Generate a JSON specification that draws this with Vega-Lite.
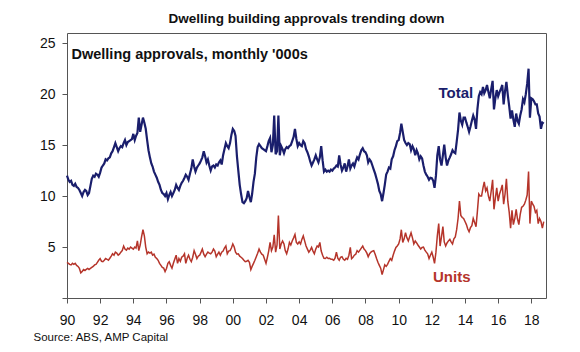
{
"$schema": "https://vega.github.io/schema/vega-lite/v6.json",
"width": 479, "height": 265,
"autosize": {"type": "none"},
"padding": {"left": 67, "top": 33, "right": 34, "bottom": 54},
"background": "white",
"config": {"font": "Liberation Sans", "view": {"stroke": "#555", "strokeWidth": 1}},
"title": {"text": "Dwelling building approvals trending down", "fontSize": 13.5, "fontWeight": "bold", "color": "#111", "anchor": "middle", "frame": "group", "offset": 11, "baseline": "alphabetic", "dx": 0, "dy": 14},
"datasets": {
"approvals": [
{"d":"1990-01","t":12.0,"u":3.5},{"d":"1990-02","t":11.6,"u":3.4},{"d":"1990-03","t":11.4,"u":3.3},{"d":"1990-04","t":11.5,"u":3.25},{"d":"1990-05","t":11.1,"u":3.4},{"d":"1990-06","t":11.0,"u":3.3},{"d":"1990-07","t":11.2,"u":3.4},{"d":"1990-08","t":10.9,"u":3.2},{"d":"1990-09","t":10.8,"u":3.1},{"d":"1990-10","t":10.6,"u":2.9},{"d":"1990-11","t":10.3,"u":2.46},{"d":"1990-12","t":10.0,"u":2.6},
{"d":"1991-01","t":10.4,"u":2.8},{"d":"1991-02","t":10.6,"u":2.7},{"d":"1991-03","t":10.5,"u":2.8},{"d":"1991-04","t":10.1,"u":2.9},{"d":"1991-05","t":10.3,"u":2.8},{"d":"1991-06","t":11.0,"u":2.9},{"d":"1991-07","t":11.7,"u":3.0},{"d":"1991-08","t":12.0,"u":3.1},{"d":"1991-09","t":11.9,"u":3.25},{"d":"1991-10","t":12.2,"u":3.3},{"d":"1991-11","t":12.1,"u":3.5},{"d":"1991-12","t":11.9,"u":3.7},
{"d":"1992-01","t":12.3,"u":3.87},{"d":"1992-02","t":12.8,"u":3.6},{"d":"1992-03","t":13.0,"u":3.56},{"d":"1992-04","t":13.2,"u":3.7},{"d":"1992-05","t":13.6,"u":3.87},{"d":"1992-06","t":13.5,"u":3.8},{"d":"1992-07","t":13.7,"u":3.7},{"d":"1992-08","t":13.8,"u":3.9},{"d":"1992-09","t":14.2,"u":4.1},{"d":"1992-10","t":14.4,"u":4.34},{"d":"1992-11","t":14.8,"u":4.2},{"d":"1992-12","t":15.2,"u":4.5},
{"d":"1993-01","t":14.8,"u":4.4},{"d":"1993-02","t":14.4,"u":4.2},{"d":"1993-03","t":14.7,"u":4.3},{"d":"1993-04","t":14.9,"u":4.5},{"d":"1993-05","t":14.8,"u":4.65},{"d":"1993-06","t":15.2,"u":5.1},{"d":"1993-07","t":15.5,"u":4.8},{"d":"1993-08","t":15.0,"u":4.7},{"d":"1993-09","t":15.3,"u":4.9},{"d":"1993-10","t":15.4,"u":4.8},{"d":"1993-11","t":15.5,"u":5.0},{"d":"1993-12","t":15.6,"u":4.9},
{"d":"1994-01","t":16.1,"u":4.8},{"d":"1994-02","t":15.5,"u":5.0},{"d":"1994-03","t":15.9,"u":4.9},{"d":"1994-04","t":16.2,"u":5.6},{"d":"1994-05","t":17.7,"u":4.65},{"d":"1994-06","t":16.3,"u":5.2},{"d":"1994-07","t":17.0,"u":6.0},{"d":"1994-08","t":17.7,"u":6.7},{"d":"1994-09","t":17.2,"u":6.1},{"d":"1994-10","t":16.6,"u":5.0},{"d":"1994-11","t":15.5,"u":4.34},{"d":"1994-12","t":14.5,"u":4.5},
{"d":"1995-01","t":13.8,"u":4.4},{"d":"1995-02","t":13.2,"u":4.5},{"d":"1995-03","t":12.9,"u":4.2},{"d":"1995-04","t":12.4,"u":4.3},{"d":"1995-05","t":12.1,"u":4.0},{"d":"1995-06","t":11.8,"u":3.87},{"d":"1995-07","t":11.4,"u":3.7},{"d":"1995-08","t":11.1,"u":3.4},{"d":"1995-09","t":10.6,"u":3.2},{"d":"1995-10","t":10.3,"u":3.0},{"d":"1995-11","t":10.2,"u":2.93},{"d":"1995-12","t":10.0,"u":2.6},
{"d":"1996-01","t":10.3,"u":2.9},{"d":"1996-02","t":9.7,"u":3.4},{"d":"1996-03","t":10.1,"u":3.56},{"d":"1996-04","t":10.4,"u":3.2},{"d":"1996-05","t":10.0,"u":2.93},{"d":"1996-06","t":10.3,"u":3.4},{"d":"1996-07","t":10.6,"u":3.8},{"d":"1996-08","t":11.1,"u":4.2},{"d":"1996-09","t":10.8,"u":3.4},{"d":"1996-10","t":10.6,"u":3.87},{"d":"1996-11","t":11.0,"u":3.6},{"d":"1996-12","t":11.3,"u":4.0},
{"d":"1997-01","t":11.5,"u":4.1},{"d":"1997-02","t":11.8,"u":4.34},{"d":"1997-03","t":12.1,"u":3.4},{"d":"1997-04","t":11.9,"u":3.9},{"d":"1997-05","t":11.6,"u":4.2},{"d":"1997-06","t":12.2,"u":3.8},{"d":"1997-07","t":12.7,"u":3.56},{"d":"1997-08","t":13.6,"u":4.0},{"d":"1997-09","t":12.9,"u":4.65},{"d":"1997-10","t":12.4,"u":4.3},{"d":"1997-11","t":12.8,"u":3.87},{"d":"1997-12","t":13.0,"u":4.1},
{"d":"1998-01","t":13.2,"u":4.2},{"d":"1998-02","t":13.5,"u":4.5},{"d":"1998-03","t":13.8,"u":4.8},{"d":"1998-04","t":14.4,"u":4.3},{"d":"1998-05","t":13.9,"u":4.05},{"d":"1998-06","t":13.3,"u":4.3},{"d":"1998-07","t":13.6,"u":4.5},{"d":"1998-08","t":13.0,"u":4.4},{"d":"1998-09","t":12.5,"u":4.34},{"d":"1998-10","t":12.9,"u":4.5},{"d":"1998-11","t":13.0,"u":4.8},{"d":"1998-12","t":12.8,"u":4.6},
{"d":"1999-01","t":13.1,"u":4.05},{"d":"1999-02","t":13.0,"u":4.3},{"d":"1999-03","t":13.3,"u":4.5},{"d":"1999-04","t":13.5,"u":4.2},{"d":"1999-05","t":13.1,"u":4.5},{"d":"1999-06","t":14.0,"u":4.6},{"d":"1999-07","t":14.6,"u":4.9},{"d":"1999-08","t":15.2,"u":5.1},{"d":"1999-09","t":14.9,"u":4.34},{"d":"1999-10","t":14.7,"u":4.6},{"d":"1999-11","t":15.2,"u":4.65},{"d":"1999-12","t":16.0,"u":4.9},
{"d":"2000-01","t":16.6,"u":5.3},{"d":"2000-02","t":16.4,"u":5.0},{"d":"2000-03","t":15.9,"u":4.5},{"d":"2000-04","t":13.9,"u":4.3},{"d":"2000-05","t":12.5,"u":4.34},{"d":"2000-06","t":11.1,"u":4.1},{"d":"2000-07","t":10.2,"u":4.0},{"d":"2000-08","t":9.4,"u":3.87},{"d":"2000-09","t":9.3,"u":3.7},{"d":"2000-10","t":9.5,"u":3.56},{"d":"2000-11","t":9.8,"u":3.6},{"d":"2000-12","t":10.5,"u":3.7},
{"d":"2001-01","t":9.9,"u":3.5},{"d":"2001-02","t":9.4,"u":2.78},{"d":"2001-03","t":10.2,"u":3.1},{"d":"2001-04","t":11.4,"u":3.4},{"d":"2001-05","t":12.2,"u":3.7},{"d":"2001-06","t":13.8,"u":4.05},{"d":"2001-07","t":14.8,"u":4.4},{"d":"2001-08","t":15.1,"u":4.8},{"d":"2001-09","t":14.9,"u":4.5},{"d":"2001-10","t":14.7,"u":4.3},{"d":"2001-11","t":14.6,"u":4.2},{"d":"2001-12","t":14.5,"u":3.8},
{"d":"2002-01","t":14.4,"u":3.4},{"d":"2002-02","t":14.9,"u":4.0},{"d":"2002-03","t":15.4,"u":4.6},{"d":"2002-04","t":15.7,"u":5.45},{"d":"2002-05","t":14.3,"u":4.65},{"d":"2002-06","t":15.0,"u":5.0},{"d":"2002-07","t":17.9,"u":6.2},{"d":"2002-08","t":14.1,"u":4.5},{"d":"2002-09","t":14.4,"u":5.2},{"d":"2002-10","t":17.9,"u":8.1},{"d":"2002-11","t":14.0,"u":4.8},{"d":"2002-12","t":14.9,"u":5.3},
{"d":"2003-01","t":14.6,"u":5.6},{"d":"2003-02","t":14.2,"u":5.3},{"d":"2003-03","t":14.6,"u":4.65},{"d":"2003-04","t":14.8,"u":4.34},{"d":"2003-05","t":14.7,"u":4.8},{"d":"2003-06","t":14.9,"u":5.45},{"d":"2003-07","t":15.0,"u":5.2},{"d":"2003-08","t":15.4,"u":5.6},{"d":"2003-09","t":15.8,"u":5.9},{"d":"2003-10","t":16.6,"u":6.23},{"d":"2003-11","t":15.6,"u":5.45},{"d":"2003-12","t":14.9,"u":5.3},
{"d":"2004-01","t":15.2,"u":5.5},{"d":"2004-02","t":15.0,"u":5.3},{"d":"2004-03","t":14.9,"u":5.75},{"d":"2004-04","t":15.4,"u":6.1},{"d":"2004-05","t":15.2,"u":5.6},{"d":"2004-06","t":14.6,"u":5.1},{"d":"2004-07","t":14.3,"u":4.8},{"d":"2004-08","t":13.9,"u":4.5},{"d":"2004-09","t":13.4,"u":4.7},{"d":"2004-10","t":13.0,"u":4.96},{"d":"2004-11","t":13.3,"u":4.6},{"d":"2004-12","t":13.6,"u":4.34},
{"d":"2005-01","t":14.0,"u":4.8},{"d":"2005-02","t":13.6,"u":5.1},{"d":"2005-03","t":13.3,"u":5.0},{"d":"2005-04","t":13.8,"u":5.45},{"d":"2005-05","t":14.9,"u":4.6},{"d":"2005-06","t":13.5,"u":4.2},{"d":"2005-07","t":12.4,"u":3.9},{"d":"2005-08","t":12.6,"u":3.87},{"d":"2005-09","t":12.4,"u":4.0},{"d":"2005-10","t":12.5,"u":3.87},{"d":"2005-11","t":12.4,"u":3.9},{"d":"2005-12","t":12.6,"u":3.8},
{"d":"2006-01","t":12.5,"u":3.8},{"d":"2006-02","t":12.7,"u":3.7},{"d":"2006-03","t":12.8,"u":3.9},{"d":"2006-04","t":13.0,"u":4.5},{"d":"2006-05","t":12.9,"u":3.9},{"d":"2006-06","t":14.0,"u":3.7},{"d":"2006-07","t":13.1,"u":4.0},{"d":"2006-08","t":12.5,"u":4.05},{"d":"2006-09","t":12.8,"u":3.8},{"d":"2006-10","t":13.2,"u":3.7},{"d":"2006-11","t":12.4,"u":3.9},{"d":"2006-12","t":12.9,"u":3.8},
{"d":"2007-01","t":13.6,"u":4.2},{"d":"2007-02","t":12.7,"u":4.96},{"d":"2007-03","t":13.0,"u":3.87},{"d":"2007-04","t":13.2,"u":4.0},{"d":"2007-05","t":12.9,"u":4.2},{"d":"2007-06","t":13.4,"u":4.3},{"d":"2007-07","t":13.8,"u":4.65},{"d":"2007-08","t":13.6,"u":4.5},{"d":"2007-09","t":14.1,"u":4.7},{"d":"2007-10","t":14.5,"u":4.9},{"d":"2007-11","t":14.7,"u":5.1},{"d":"2007-12","t":14.4,"u":4.8},
{"d":"2008-01","t":14.3,"u":4.65},{"d":"2008-02","t":14.0,"u":4.4},{"d":"2008-03","t":13.3,"u":4.05},{"d":"2008-04","t":13.6,"u":4.34},{"d":"2008-05","t":13.4,"u":4.5},{"d":"2008-06","t":13.0,"u":4.6},{"d":"2008-07","t":12.6,"u":4.65},{"d":"2008-08","t":12.2,"u":4.3},{"d":"2008-09","t":11.7,"u":3.87},{"d":"2008-10","t":11.2,"u":3.5},{"d":"2008-11","t":10.5,"u":3.2},{"d":"2008-12","t":10.2,"u":2.93},
{"d":"2009-01","t":9.5,"u":2.3},{"d":"2009-02","t":10.3,"u":2.78},{"d":"2009-03","t":11.1,"u":3.25},{"d":"2009-04","t":12.1,"u":3.1},{"d":"2009-05","t":12.4,"u":3.3},{"d":"2009-06","t":12.8,"u":3.6},{"d":"2009-07","t":12.7,"u":3.87},{"d":"2009-08","t":13.6,"u":3.7},{"d":"2009-09","t":13.9,"u":4.2},{"d":"2009-10","t":14.5,"u":4.6},{"d":"2009-11","t":14.9,"u":4.96},{"d":"2009-12","t":15.4,"u":5.1},
{"d":"2010-01","t":15.5,"u":5.3},{"d":"2010-02","t":16.2,"u":5.8},{"d":"2010-03","t":17.1,"u":6.7},{"d":"2010-04","t":16.3,"u":5.45},{"d":"2010-05","t":15.5,"u":5.8},{"d":"2010-06","t":15.2,"u":6.4},{"d":"2010-07","t":15.0,"u":5.9},{"d":"2010-08","t":15.2,"u":5.6},{"d":"2010-09","t":15.1,"u":6.0},{"d":"2010-10","t":14.5,"u":6.4},{"d":"2010-11","t":14.9,"u":5.9},{"d":"2010-12","t":14.6,"u":5.3},
{"d":"2011-01","t":14.0,"u":5.6},{"d":"2011-02","t":14.5,"u":5.4},{"d":"2011-03","t":14.2,"u":5.2},{"d":"2011-04","t":13.6,"u":5.0},{"d":"2011-05","t":13.9,"u":4.8},{"d":"2011-06","t":13.7,"u":4.96},{"d":"2011-07","t":13.0,"u":5.0},{"d":"2011-08","t":12.4,"u":4.7},{"d":"2011-09","t":12.1,"u":4.5},{"d":"2011-10","t":11.9,"u":4.34},{"d":"2011-11","t":11.6,"u":3.87},{"d":"2011-12","t":11.8,"u":4.2},
{"d":"2012-01","t":11.75,"u":4.5},{"d":"2012-02","t":11.5,"u":4.0},{"d":"2012-03","t":10.8,"u":3.4},{"d":"2012-04","t":12.0,"u":4.5},{"d":"2012-05","t":14.0,"u":6.1},{"d":"2012-06","t":14.9,"u":7.3},{"d":"2012-07","t":13.6,"u":5.1},{"d":"2012-08","t":13.0,"u":6.0},{"d":"2012-09","t":14.0,"u":7.0},{"d":"2012-10","t":15.05,"u":5.5},{"d":"2012-11","t":13.8,"u":5.1},{"d":"2012-12","t":13.0,"u":5.4},
{"d":"2013-01","t":13.5,"u":5.6},{"d":"2013-02","t":13.8,"u":5.75},{"d":"2013-03","t":14.1,"u":5.5},{"d":"2013-04","t":14.5,"u":5.3},{"d":"2013-05","t":14.3,"u":5.8},{"d":"2013-06","t":14.2,"u":6.0},{"d":"2013-07","t":15.3,"u":6.7},{"d":"2013-08","t":16.5,"u":7.8},{"d":"2013-09","t":18.2,"u":9.5},{"d":"2013-10","t":17.4,"u":8.1},{"d":"2013-11","t":17.0,"u":7.9},{"d":"2013-12","t":17.7,"u":7.8},
{"d":"2014-01","t":17.7,"u":7.5},{"d":"2014-02","t":17.2,"u":7.2},{"d":"2014-03","t":16.8,"u":6.8},{"d":"2014-04","t":16.3,"u":6.5},{"d":"2014-05","t":16.8,"u":6.9},{"d":"2014-06","t":17.4,"u":7.1},{"d":"2014-07","t":17.9,"u":7.8},{"d":"2014-08","t":17.5,"u":7.4},{"d":"2014-09","t":16.6,"u":7.0},{"d":"2014-10","t":18.5,"u":8.5},{"d":"2014-11","t":19.8,"u":10.2},{"d":"2014-12","t":20.2,"u":10.0},
{"d":"2015-01","t":20.0,"u":10.0},{"d":"2015-02","t":20.7,"u":10.8},{"d":"2015-03","t":20.1,"u":11.4},{"d":"2015-04","t":20.4,"u":10.5},{"d":"2015-05","t":20.9,"u":10.8},{"d":"2015-06","t":20.2,"u":10.0},{"d":"2015-07","t":19.6,"u":9.5},{"d":"2015-08","t":20.5,"u":10.5},{"d":"2015-09","t":21.3,"u":11.6},{"d":"2015-10","t":18.5,"u":8.7},{"d":"2015-11","t":19.6,"u":9.8},{"d":"2015-12","t":20.4,"u":10.8},
{"d":"2016-01","t":19.8,"u":9.5},{"d":"2016-02","t":20.2,"u":10.2},{"d":"2016-03","t":20.5,"u":10.6},{"d":"2016-04","t":20.9,"u":11.1},{"d":"2016-05","t":19.0,"u":9.2},{"d":"2016-06","t":20.3,"u":10.2},{"d":"2016-07","t":21.2,"u":11.7},{"d":"2016-08","t":19.9,"u":9.5},{"d":"2016-09","t":18.8,"u":8.4},{"d":"2016-10","t":17.6,"u":6.86},{"d":"2016-11","t":18.4,"u":8.6},{"d":"2016-12","t":17.5,"u":7.2},
{"d":"2017-01","t":16.8,"u":7.8},{"d":"2017-02","t":18.1,"u":8.7},{"d":"2017-03","t":17.4,"u":7.8},{"d":"2017-04","t":17.1,"u":7.2},{"d":"2017-05","t":17.9,"u":8.2},{"d":"2017-06","t":18.5,"u":8.9},{"d":"2017-07","t":19.5,"u":9.0},{"d":"2017-08","t":19.2,"u":9.2},{"d":"2017-09","t":20.0,"u":9.6},{"d":"2017-10","t":21.0,"u":10.1},{"d":"2017-11","t":22.5,"u":12.4},{"d":"2017-12","t":17.7,"u":7.3},
{"d":"2018-01","t":19.6,"u":9.5},{"d":"2018-02","t":19.5,"u":9.2},{"d":"2018-03","t":19.3,"u":9.0},{"d":"2018-04","t":19.0,"u":8.4},{"d":"2018-05","t":19.0,"u":8.6},{"d":"2018-06","t":18.1,"u":7.3},{"d":"2018-07","t":17.8,"u":7.8},{"d":"2018-08","t":16.6,"u":7.5},{"d":"2018-09","t":17.2,"u":6.86},{"d":"2018-10","t":17.1,"u":7.5}
],
"labels": [
{"d":"2013-06-15","v":20.1,"txt":"Total"},
{"d":"2013-03-15","v":2.1,"txt":"Units"}
],
"note": [
{"d":"1990-04-10","v":23.8,"txt":"Dwelling approvals, monthly '000s"}
]
},
"layer": [
{
"data": {"name": "approvals"},
"mark": {"type": "line", "color": "#1a1e6c", "strokeWidth": 2.2},
"encoding": {
"x": {"field": "d", "type": "temporal",
"scale": {"type": "utc", "domain": [{"year": 1990, "month": 1, "date": 1, "utc": true}, {"year": 2018, "month": 11, "date": 20, "utc": true}]},
"axis": {"tickCount": {"interval": "year", "step": 2}, "format": "%y", "labelFontSize": 14, "labelColor": "#111", "labelFlush": false, "labelPadding": 10, "tickSize": 5, "tickColor": "#555", "domain": false, "grid": false,
"title": "Source: ABS, AMP Capital", "titleFontSize": 11.5, "titleFontWeight": "normal", "titleColor": "#111", "titleAnchor": "start", "titleAlign": "left", "titleX": -34, "titleY": 39, "titleBaseline": "middle"}},
"y": {"field": "t", "type": "quantitative",
"scale": {"domain": [0, 25]},
"axis": {"values": [0, 5, 10, 15, 20, 25], "labelExpr": "datum.value == 0 ? '' : datum.label", "labelFontSize": 14, "labelColor": "#111", "labelPadding": 7, "tickSize": 5, "tickColor": "#555", "domain": false, "grid": false, "title": null}}
}
},
{
"data": {"name": "approvals"},
"mark": {"type": "line", "color": "#b5342a", "strokeWidth": 1.5},
"encoding": {
"x": {"field": "d", "type": "temporal"},
"y": {"field": "u", "type": "quantitative"}
}
},
{
"data": {"name": "labels"},
"mark": {"type": "text", "fontSize": 15, "fontWeight": "bold", "align": "center", "baseline": "middle"},
"encoding": {
"x": {"field": "d", "type": "temporal"},
"y": {"field": "v", "type": "quantitative"},
"text": {"field": "txt"},
"color": {"field": "txt", "type": "nominal", "scale": {"domain": ["Total", "Units"], "range": ["#1a1e6c", "#b5342a"]}, "legend": null}
}
},
{
"data": {"name": "note"},
"mark": {"type": "text", "fontSize": 14.5, "fontWeight": "bold", "align": "left", "baseline": "middle", "color": "#111"},
"encoding": {
"x": {"field": "d", "type": "temporal"},
"y": {"field": "v", "type": "quantitative"},
"text": {"field": "txt"}
}
}
]
}
